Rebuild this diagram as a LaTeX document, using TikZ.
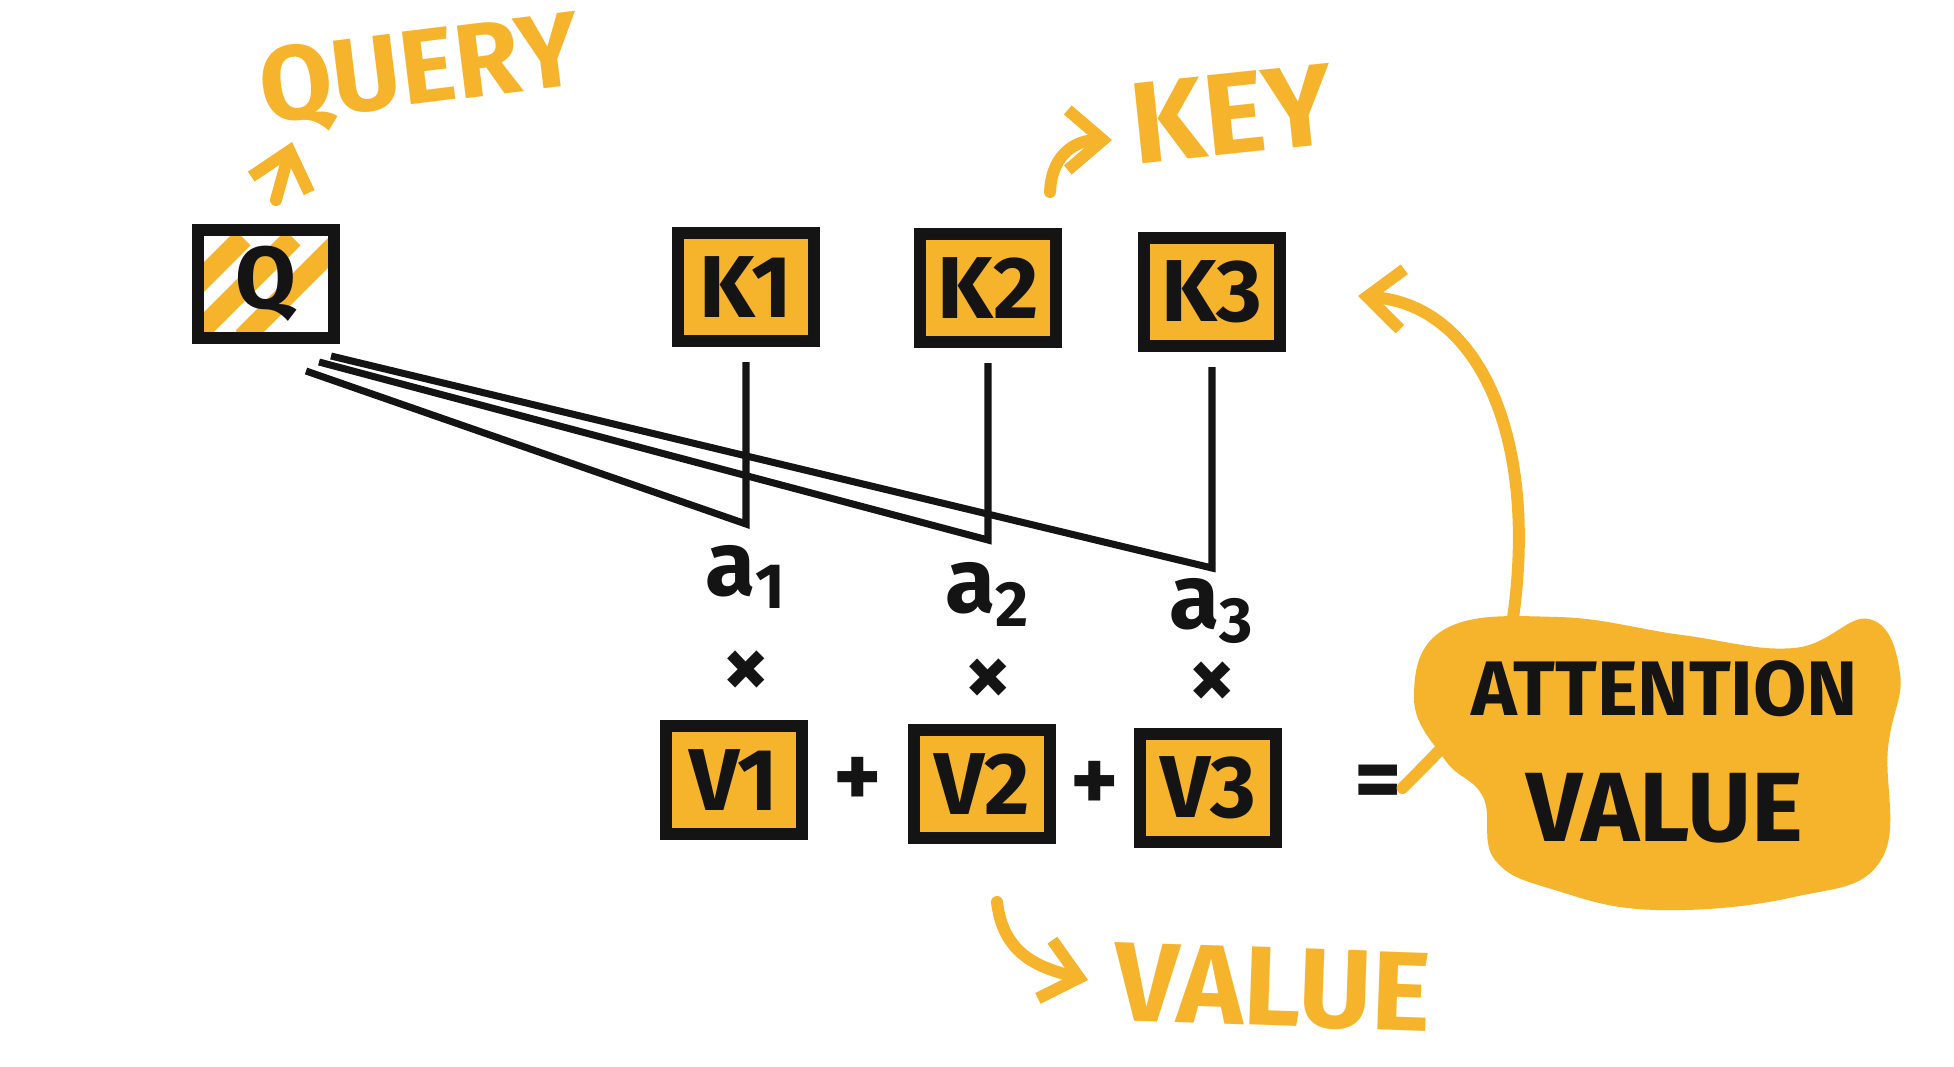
\documentclass[tikz,border=0pt]{standalone}
\usepackage{fontspec}
\setmainfont{Fira Sans}
\usepackage{xcolor}
\definecolor{markerYellow}{HTML}{F5B42C}
\definecolor{inkBlack}{HTML}{141414}
\usepackage{tikz}
\usetikzlibrary{
    arrows.meta,
    positioning,
    calc
}
\tikzset{
    % Base style for all handwritten text
    hand base/.style={
        inner sep=0pt,
        text=inkBlack,
    },
    % Vector boxes - yellow marker fill, thick ink border
    vecbox/.style={
        hand base,
        rectangle,
        draw=inkBlack,
        line width=3.4pt,
        fill=markerYellow,
        minimum width=1.36cm,
        minimum height=1.08cm,
        font=\bfseries\fontsize{25}{28}\selectfont,
    },
    % Query box - white with marker hatching
    querybox/.style={
        vecbox,
        fill=white,
        path picture={
            \foreach \s in {-0.55,-0.05,0.45}
                \draw[markerYellow, line width=6pt]
                    ($(path picture bounding box.south west)+(\s cm,0)$) -- ++(1cm,1cm);
        },
    },
    % Ink labels - weights and operators
    ink label/.style={
        hand base,
        font=\bfseries\fontsize{26}{28}\selectfont,
    },
    % Ink connector
    ink line/.style={
        draw=inkBlack,
        line width=2pt,
        line join=miter,
    },
    % Marker captions
    marker label/.style={
        hand base,
        text=markerYellow,
        font=\bfseries\fontsize{32}{34}\selectfont,
    },
    % Marker arrow
    marker arrow/.style={
        -{Straight Barb[length=3.5mm, width=6mm]},
        draw=markerYellow,
        line width=3.4pt,
        line cap=round,
    },
}

\begin{document}
\begin{tikzpicture}[x=0.01cm, y=-0.01cm]
    \useasboundingbox (0,0) rectangle (1954,1067);

    % query, keys and values
    \node (Q) [querybox] at (266,284) {Q};
    \node (K1) [vecbox] at (746,287) {K1};
    \node (K2) [vecbox] at (988,288) {K2};
    \node (K3) [vecbox] at (1212,292) {K3};
    \node (V1) [vecbox] at (734,780) {V1};
    \node (V2) [vecbox] at (982,784) {V2};
    \node (V3) [vecbox] at (1208,788) {V3};

    % joints of query and key lines
    \path (K1.south) ++(0,177) coordinate (j1);
    \path (K2.south) ++(0,192) coordinate (j2);
    \path (K3.south) ++(0,216) coordinate (j3);

    \draw [ink line] ([shift={(-34,27)}]Q.south east) -- (j1) -- ([shift={(0,15)}]K1.south);
    \draw [ink line] ([shift={(-21,18)}]Q.south east) -- (j2) -- ([shift={(0,15)}]K2.south);
    \draw [ink line] ([shift={(-9,12)}]Q.south east) -- (j3) -- ([shift={(0,15)}]K3.south);

    % weights
    \node (a1) [ink label, below of=j1, node distance=0.53cm] {a\textsubscript{1}};
    \node (a2) [ink label, below of=j2, node distance=0.54cm] {a\textsubscript{2}};
    \node (a3) [ink label, below of=j3, node distance=0.43cm] {a\textsubscript{3}};
    \node (x1) [ink label, below of=a1, node distance=0.97cm] {×};
    \node (x2) [ink label, below of=a2, node distance=0.88cm] {×};
    \node (x3) [ink label, below of=a3, node distance=0.74cm] {×};

    % weighted sum
    \node (p1) [ink label] at ($(V1.east)!0.5!(V2.west)$) {+};
    \node (p2) [ink label] at ($(V2.east)!0.5!(V3.west)$) {+};
    \node (eq) [ink label, right of=V3, node distance=1.7cm] {=};

    % result back to the keys
    \draw [marker arrow] (eq.east) .. controls (1440,750) and (1495,700) .. (1512,625)
        .. controls (1540,440) and (1480,305) .. ([shift={(72,4)}]K3.east);

    % attention value blob
    \fill [markerYellow] plot[smooth cycle, tension=0.7] coordinates {
        (1414,698) (1445,629) (1558,617) (1682,635) (1794,648) (1869,619)
        (1900,673) (1888,748) (1881,860) (1794,897) (1657,910) (1558,891)
        (1495,860) (1483,797) (1445,760)};
    \node (attn) [hand base, align=center, font=\bfseries\fontsize{22}{36}\selectfont]
        at (1665,752) {ATTENTION\\{\fontsize{28}{30}\selectfont VALUE}};

    % captions
    \node (query) [marker label, rotate=7, font=\bfseries\fontsize{30}{32}\selectfont] at (420,74) {QUERY};
    \node (key) [marker label, rotate=6, font=\bfseries\fontsize{33}{35}\selectfont] at (1232,114) {KEY};
    \node (value) [marker label, rotate=-2] at (1273,988) {VALUE};

    \draw [marker arrow] ([shift={(10,-24)}]Q.north) -- ++(16,-58);
    \draw [marker arrow] (1050,192) .. controls (1052,150) and (1080,140) .. (1112,140);
    \draw [marker arrow] ([shift={(15,58)}]V2.south) .. controls (1003,955) and (1040,968) .. (1088,980);
\end{tikzpicture}
\end{document}
